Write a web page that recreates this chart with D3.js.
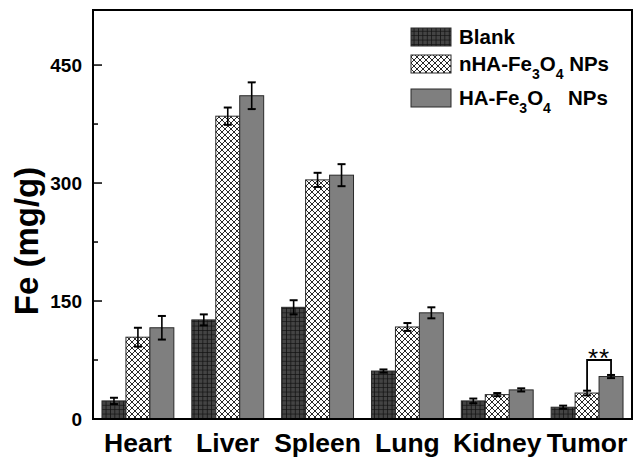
<!DOCTYPE html>
<html><head><meta charset="utf-8">
<script src="https://cdn.jsdelivr.net/npm/d3@7"></script>
<style>body{margin:0;background:#fff}svg{display:block}text{font-family:"Liberation Sans",Arial,sans-serif}</style>
</head><body><svg id="c" width="639" height="458"></svg>
<script>
const categories = ["Heart","Liver","Spleen","Lung","Kidney","Tumor"];
const seriesNames = ["Blank","nHA-Fe3O4 NPs","HA-Fe3O4 NPs"];
const blankVals = [23,126,142,61,23,15];
const blankErr  = [4,7,9,2,3,2];
const nhaVals   = [104,385,304,117,31,33];
const nhaErr    = [12,11,9,5,2,3];
const haVals    = [116,411,310,135,37,54];
const haErr     = [15,17,14,7,2,2];
const yTicks = [0,150,300,450];
const yMinor = [75,225,375];
const sigBracket = {cat:"Tumor", from:1, to:2, level:75, label:"**"};

const svg = d3.select("#c");
const L=93,R=632,T=10,B=419;
const x0 = d3.scaleBand().domain(categories).range([L,R]).paddingInner(0.2).paddingOuter(0.1);
const x1 = d3.scaleBand().domain(d3.range(3)).range([0,x0.bandwidth()]);
const y = d3.scaleLinear().domain([0,520]).range([B,T]);

const defs = svg.append("defs");
const pg = defs.append("pattern").attr("id","grid").attr("patternUnits","userSpaceOnUse").attr("width",4.4).attr("height",4.4);
pg.append("rect").attr("width",4.4).attr("height",4.4).attr("fill","#444");
pg.append("path").attr("d","M0,0.3H4.4M0.3,0V4.4").attr("stroke","#111").attr("stroke-width",0.9);
const ph = defs.append("pattern").attr("id","hatch").attr("patternUnits","userSpaceOnUse").attr("width",6).attr("height",6);
ph.append("rect").attr("width",6).attr("height",6).attr("fill","#fff");
ph.append("path").attr("d","M0,0L6,6M6,0L0,6").attr("stroke","#111").attr("stroke-width",0.9);

const fills = ["url(#grid)","url(#hatch)","#7f7f7f"];
const vals = [blankVals,nhaVals,haVals];
const errs = [blankErr,nhaErr,haErr];

const data = [];
categories.forEach((c,i)=>{ for(let s=0;s<3;s++) data.push({c,s,v:vals[s][i],e:errs[s][i]}); });

svg.append("g").selectAll("rect").data(data).join("rect")
  .attr("x",d=>x0(d.c)+x1(d.s)).attr("width",x1.bandwidth())
  .attr("y",d=>y(d.v)).attr("height",d=>y(0)-y(d.v))
  .attr("fill",d=>fills[d.s]).attr("stroke","#2a2a2a").attr("stroke-width",1);

// error bars
const eg = svg.append("g").attr("stroke","#000").attr("stroke-width",1.6);
data.forEach(d=>{
  const cx = x0(d.c)+x1(d.s)+x1.bandwidth()/2;
  eg.append("line").attr("x1",cx).attr("x2",cx).attr("y1",y(d.v+d.e)).attr("y2",y(d.v-d.e));
  [d.v+d.e,d.v-d.e].forEach(v=>eg.append("line").attr("x1",cx-4).attr("x2",cx+4).attr("y1",y(v)).attr("y2",y(v)).attr("stroke-width",2));
});

// significance bracket
{
  const i = categories.indexOf(sigBracket.cat);
  const xa = x0(sigBracket.cat)+x1(sigBracket.from)+x1.bandwidth()/2;
  const xb = x0(sigBracket.cat)+x1(sigBracket.to)+x1.bandwidth()/2;
  const ya = y(vals[sigBracket.from][i]+errs[sigBracket.from][i]);
  const yb = y(vals[sigBracket.to][i]+errs[sigBracket.to][i]);
  const yt = y(sigBracket.level);
  svg.append("path").attr("d",`M${xa},${ya}V${yt}H${xb}V${yb}`).attr("fill","none").attr("stroke","#000").attr("stroke-width",1.8);
  svg.append("text").attr("x",(xa+xb)/2).attr("y",yt+7).attr("text-anchor","middle")
    .attr("font-size",26).attr("letter-spacing",1).attr("fill","#000").text(sigBracket.label);
}

// frame
svg.append("rect").attr("x",L).attr("y",T).attr("width",R-L).attr("height",B-T).attr("fill","none").attr("stroke","#000").attr("stroke-width",2);

// y axis ticks (inward)
const ya = svg.append("g");
yTicks.forEach(t=>{
  ya.append("line").attr("x1",L).attr("x2",L+9).attr("y1",y(t)).attr("y2",y(t)).attr("stroke","#000").attr("stroke-width",1.5);
  ya.append("text").attr("x",82).attr("y",y(t)).attr("dy","0.36em").attr("text-anchor","end")
    .attr("font-size",19).attr("font-weight","bold").text(t);
});
yMinor.forEach(t=>{
  ya.append("line").attr("x1",L).attr("x2",L+5).attr("y1",y(t)).attr("y2",y(t)).attr("stroke","#000").attr("stroke-width",1.5);
});

// x labels
svg.append("g").selectAll("text").data(categories).join("text")
  .attr("x",d=>x0(d)+x0.bandwidth()/2).attr("y",452).attr("text-anchor","middle")
  .attr("font-size",26.5).attr("font-weight","bold").text(d=>d);

// y title
svg.append("text").attr("transform","translate(38,241) rotate(-90)").attr("text-anchor","middle")
  .attr("font-size",33).attr("font-weight","bold").text("Fe (mg/g)");

// legend
const lg = svg.append("g");
const ly = [28,55,89];
function addSub(t, parts){
  parts.forEach(p=>{
    const ts = t.append("tspan").text(p.t);
    if(p.sub){ ts.attr("font-size",14).attr("dy",8); }
    else if(p.back){ ts.attr("dy",-8); }
  });
}
seriesNames.forEach((n,s)=>{
  lg.append("rect").attr("x",411).attr("y",ly[s]).attr("width",40).attr("height",18)
    .attr("fill",fills[s]).attr("stroke","#2a2a2a").attr("stroke-width",1);
  const t = lg.append("text").attr("x",459).attr("y",ly[s]+16).attr("font-size",20.5).attr("font-weight","bold");
  if(s===0) t.text("Blank");
  else if(s===1) addSub(t,[{t:"nHA-Fe"},{t:"3",sub:true},{t:"O",back:true},{t:"4",sub:true},{t:" NPs",back:true}]);
  else addSub(t,[{t:"HA-Fe"},{t:"3",sub:true},{t:"O",back:true},{t:"4",sub:true},{t:"\u00a0\u00a0 NPs",back:true}]);
});
</script></body></html>
